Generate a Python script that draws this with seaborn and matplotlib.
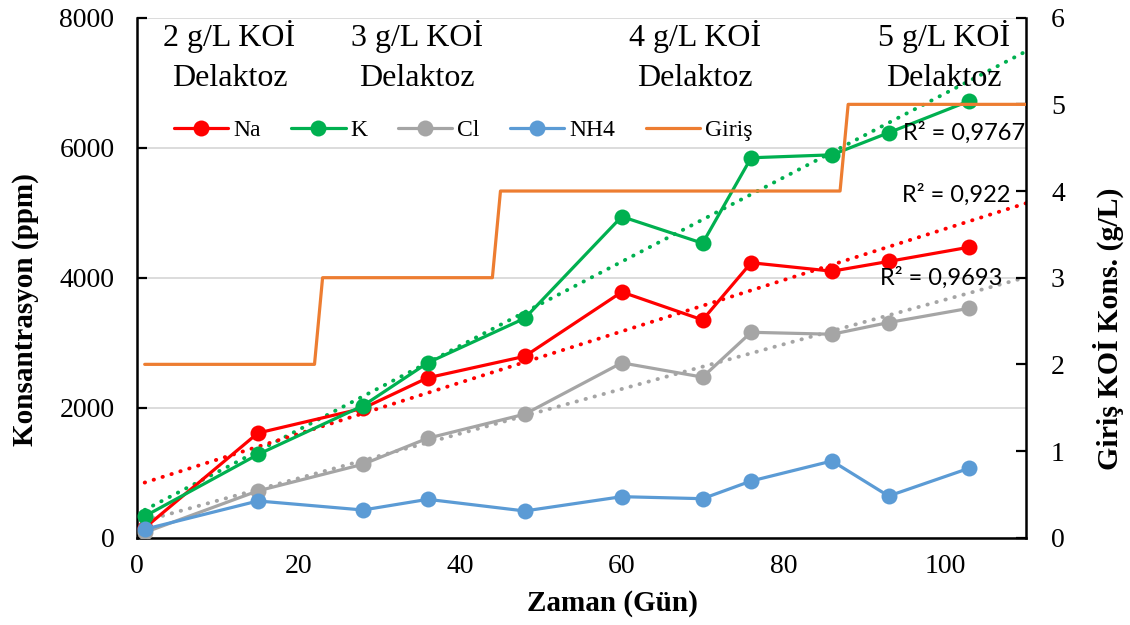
import numpy as np
import matplotlib
matplotlib.use("Agg")
import matplotlib.pyplot as plt
import seaborn as sns
from matplotlib.lines import Line2D

# Sampling days and ion concentrations (ppm)
days = [1, 15, 28, 36, 48, 60, 70, 76, 86, 93, 103]
na = [150, 1610, 1990, 2460, 2790, 3780, 3350, 4230, 4100, 4250, 4470]
k = [330, 1280, 2030, 2690, 3375, 4940, 4530, 5845, 5890, 6230, 6720]
cl = [80, 720, 1130, 1530, 1900, 2690, 2470, 3160, 3130, 3310, 3530]
nh4 = [130, 565, 426, 590, 411, 631, 600, 872, 1180, 641, 1070]

# Influent COD (g/L) step profile
feed_days = [1, 22, 23, 44, 45, 87, 88, 110]
feed_cod = [2, 2, 3, 3, 4, 4, 5, 5]

series_names = ["Na", "K", "Cl", "NH4"]
series_colors = ["#FF0000", "#00B050", "#A5A5A5", "#5B9BD5"]
feed_name = "Giriş"
feed_color = "#ED7D31"

# Linear trend lines (Na, K, Cl) and their R² labels
trend_names = ["K", "Na", "Cl"]
r2_texts = ["R² = 0,9767", "R² = 0,922", "R² = 0,9693"]
trend_end = 110

phase_texts = ["2 g/L KOİ\nDelaktoz", "3 g/L KOİ\nDelaktoz",
               "4 g/L KOİ\nDelaktoz", "5 g/L KOİ\nDelaktoz"]

x_ticks = [0, 20, 40, 60, 80, 100]
y_ticks = [0, 2000, 4000, 6000, 8000]
y2_ticks = [0, 1, 2, 3, 4, 5, 6]

sns.set_style("white")
plt.rcParams["font.family"] = ["Liberation Serif", "DejaVu Serif"]
plt.rcParams["text.color"] = "black"
plt.rcParams["axes.labelcolor"] = "black"
plt.rcParams["xtick.color"] = "black"
plt.rcParams["ytick.color"] = "black"

fig = plt.figure(figsize=(11.3, 6.25), dpi=100)
ax = fig.add_axes([0.1209, 0.1397, 0.7871, 0.8320])
ax2 = ax.twinx()

values = {"Na": na, "K": k, "Cl": cl, "NH4": nh4}
LW = 2.3
MS = 11.5

for name, color in zip(series_names, series_colors):
    sns.lineplot(x=days, y=values[name], color=color, marker="o",
                 markersize=MS, markeredgewidth=0, linewidth=LW,
                 ax=ax, zorder=3)

# dotted linear trends, extended forward to day 110
for name in trend_names:
    color = series_colors[series_names.index(name)]
    slope, icpt = np.polyfit(days, values[name], 1)
    xs = np.array([days[0], trend_end])
    ax.plot(xs, slope * xs + icpt, color=color, lw=2.8,
            linestyle=(0, (0.1, 2.3)), dash_capstyle="round", zorder=2)

sns.lineplot(x=feed_days, y=feed_cod, color=feed_color, linewidth=LW,
             ax=ax2, sort=False, zorder=3)

for a in (ax, ax2):
    if a.get_legend() is not None:
        a.get_legend().remove()

ax.set_xlim(0, 110)
ax.set_ylim(0, 8000)
ax2.set_ylim(0, 6)
ax.set_xticks(x_ticks)
ax.set_yticks(y_ticks)
ax2.set_yticks(y2_ticks)

ax.set_axisbelow(True)
ax.yaxis.grid(True, color="#D9D9D9", lw=1.3)
ax.xaxis.grid(False)
ax2.grid(False)

for a in (ax, ax2):
    a.spines["top"].set_visible(False)
ax.spines["right"].set_visible(False)
ax2.spines["left"].set_visible(False)
ax2.spines["bottom"].set_visible(False)
for sp in (ax.spines["left"], ax.spines["bottom"], ax2.spines["right"]):
    sp.set_color("black")
    sp.set_linewidth(1.8)

ax.tick_params(axis="x", direction="in", length=7, width=1.6,
               labelsize=20, pad=12, colors="black")
ax.tick_params(axis="y", direction="in", length=7, width=1.6,
               labelsize=20, pad=16, colors="black")
ax2.tick_params(axis="y", direction="in", length=7, width=1.6,
                labelsize=20, pad=18, colors="black")

ax.set_xlabel("Zaman (Gün)", fontsize=21, fontweight="bold", color="black")
ax.set_ylabel("Konsantrasyon (ppm)", fontsize=21, fontweight="bold",
              color="black")
ax2.set_ylabel("Giriş KOİ Kons. (g/L)", fontsize=21.5, fontweight="bold",
               color="black")
ax.xaxis.set_label_coords(0.5345, -0.100)
ax.yaxis.set_label_coords(-0.110, 0.438)
ax2.yaxis.set_label_coords(1.075, 0.401)

# phase annotations
phase_x = [0.1043, 0.3149, 0.6279, 0.9078]
for px, txt in zip(phase_x, phase_texts):
    ax.text(px, 0.996, txt, transform=ax.transAxes, ha="center", va="top",
            fontsize=23, linespacing=1.5, color="black", zorder=6)

# R² labels
r2_pos = [(0.9989, 0.778), (0.982, 0.659), (0.973, 0.4994)]
for (rx, ry), txt in zip(r2_pos, r2_texts):
    ax2.text(rx, ry, txt, transform=ax.transAxes, ha="right", va="center",
             fontsize=17, family=["Lato", "DejaVu Sans"], color="black",
             zorder=6)

handles = [Line2D([], [], color=c, lw=LW, marker="o", markersize=MS,
                  markeredgewidth=0) for c in series_colors]
handles.append(Line2D([], [], color=feed_color, lw=LW))
labels = series_names + [feed_name]
fig.legend(handles, labels, loc="center left", bbox_to_anchor=(0.154, 0.792),
           ncol=5, frameon=False, borderpad=0, borderaxespad=0,
           handlelength=2.3, handletextpad=0.2, columnspacing=1.3,
           fontsize=17, labelcolor="black")

fig.savefig("out.png", dpi=100)
